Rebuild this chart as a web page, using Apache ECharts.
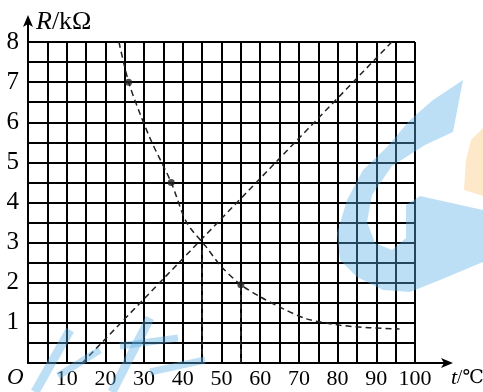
<!DOCTYPE html>
<html>
<head>
<meta charset="utf-8">
<script src="https://cdn.jsdelivr.net/npm/echarts@6/dist/echarts.min.js"></script>
<style>
  html, body { margin: 0; background: #fff; }
  #chart { width: 483px; height: 392px; }
</style>
</head>
<body>
<div id="chart"></div>
<script>
// R-t curve of the thermistor
const curveT = [23.5, 26, 29, 32, 37, 41, 46, 50, 55, 60, 66, 72, 80, 88, 96]
const curveR = [8, 7, 6.2, 5.5, 4.5, 3.5, 2.9, 2.4, 1.95, 1.65, 1.35, 1.1, 0.95, 0.88, 0.85]
// the marked measurement dots
const pointT = [26, 37, 55]
const pointR = [7, 4.5, 1.95]
// straight line
const lineT = [14, 94]
const lineR = [0, 8]
// drop lines to the t axis
const dropT = [45, 55]
const dropR = [2.9, 1.95]

const xTicks = [10, 20, 30, 40, 50, 60, 70, 80, 90, 100]
const yTicks = [1, 2, 3, 4, 5, 6, 7, 8]

const serif = '"Liberation Serif", "DejaVu Serif", serif'
const ink = '#000'
const wm = 'rgba(90,176,232,0.4)'

// plot box in pixels
const G = { left: 28, right: 68, top: 42, bottom: 29 }
const x0 = G.left, y0 = 392 - G.bottom, x1 = 483 - G.right

const el = document.getElementById('chart')
const chart = echarts.init(el, null, { renderer: 'canvas' })

const dashed = { color: '#222', width: 1.5, type: [6, 4] }

const series = [
  {
    type: 'line',
    data: curveT.map((t, i) => [t, curveR[i]]),
    smooth: 0.3,
    showSymbol: false,
    lineStyle: dashed,
    z: 3
  },
  {
    type: 'line',
    data: lineT.map((t, i) => [t, lineR[i]]),
    showSymbol: false,
    lineStyle: dashed,
    z: 3
  },
  {
    type: 'scatter',
    data: pointT.map((t, i) => [t, pointR[i]]),
    symbolSize: 7,
    itemStyle: { color: '#222' },
    z: 4
  }
]
dropT.forEach((t, i) => {
  series.push({
    type: 'line',
    data: [[t, 0], [t, dropR[i]]],
    showSymbol: false,
    lineStyle: { color: '#333', width: 1.2, type: [5, 4] },
    z: 3
  })
})

// rough strokes of the watermark lettering, bottom left
const strokes = [
  [35, 392, 70, 330, 9], [58, 376, 100, 350, 7], [112, 392, 150, 318, 9],
  [120, 346, 178, 338, 7], [150, 372, 205, 360, 7]
].map(([a, b, c, d, w]) => ({
  type: 'line', z: 100,
  shape: { x1: a, y1: b, x2: c, y2: d },
  style: { stroke: wm, lineWidth: w }
}))

chart.setOption({
  animation: false,
  grid: G,
  xAxis: {
    type: 'value',
    min: 0,
    max: 100,
    interval: 5,
    axisLine: { show: true, onZero: false, lineStyle: { color: ink, width: 2 } },
    axisTick: { show: false },
    axisLabel: {
      margin: 5,
      color: ink,
      fontFamily: serif,
      fontSize: 22,
      formatter: v => (xTicks.includes(v) ? String(v) : '')
    },
    splitLine: { show: true, lineStyle: { color: ink, width: 2 } }
  },
  yAxis: {
    type: 'value',
    min: 0,
    max: 8,
    interval: 0.5,
    axisLine: { show: true, lineStyle: { color: ink, width: 2 } },
    axisTick: { show: false },
    axisLabel: {
      margin: 9,
      color: ink,
      fontFamily: serif,
      fontSize: 25,
      formatter: v => (yTicks.includes(v) ? String(v) : '')
    },
    splitLine: { show: true, lineStyle: { color: ink, width: 2 } }
  },
  series,
  graphic: [
    // axis arrows
    { type: 'line', shape: { x1: x1, y1: y0, x2: 450, y2: y0 }, style: { stroke: ink, lineWidth: 2 } },
    { type: 'polygon', shape: { points: [[453, y0], [441, y0 - 5], [444, y0], [441, y0 + 5]] }, style: { fill: ink } },
    { type: 'line', shape: { x1: x0, y1: G.top, x2: x0, y2: 20 }, style: { stroke: ink, lineWidth: 2 } },
    { type: 'polygon', shape: { points: [[x0, 15], [x0 - 5, 27], [x0, 24], [x0 + 5, 27]] }, style: { fill: ink } },
    // axis names and origin
    {
      type: 'text', left: 36, top: 9,
      style: {
        text: '{i|R}/kΩ', fill: ink, font: '26px ' + serif,
        rich: { i: { fontStyle: 'italic', fontFamily: serif, fontSize: 26, fill: ink } }
      }
    },
    {
      type: 'text', left: 451, top: 367,
      style: {
        text: '{i|t}/℃', fill: ink, font: '19px ' + serif,
        rich: { i: { fontStyle: 'italic', fontFamily: serif, fontSize: 22, fill: ink } }
      }
    },
    { type: 'text', left: 7, top: 366, style: { text: 'O', fill: ink, font: 'italic 23px ' + serif } },
    // watermark shapes laid over the grid
    {
      type: 'polygon', z: 100,
      shape: {
        points: [[463, 80], [433, 100], [410, 120], [387, 147], [363, 170], [347, 200], [337, 233], [340, 260],
          [357, 277], [383, 290], [410, 292], [440, 280], [483, 262], [483, 210], [420, 196], [406, 205],
          [406, 238], [392, 250], [375, 243], [367, 222], [372, 195], [392, 166], [425, 145], [453, 132]]
      },
      style: { fill: wm }
    },
    {
      type: 'polygon', z: 100,
      shape: { points: [[483, 128], [471, 140], [466, 160], [464, 190], [483, 196]] },
      style: { fill: 'rgba(250,200,120,0.4)' }
    },
    ...strokes
  ]
})
</script>
</body>
</html>
